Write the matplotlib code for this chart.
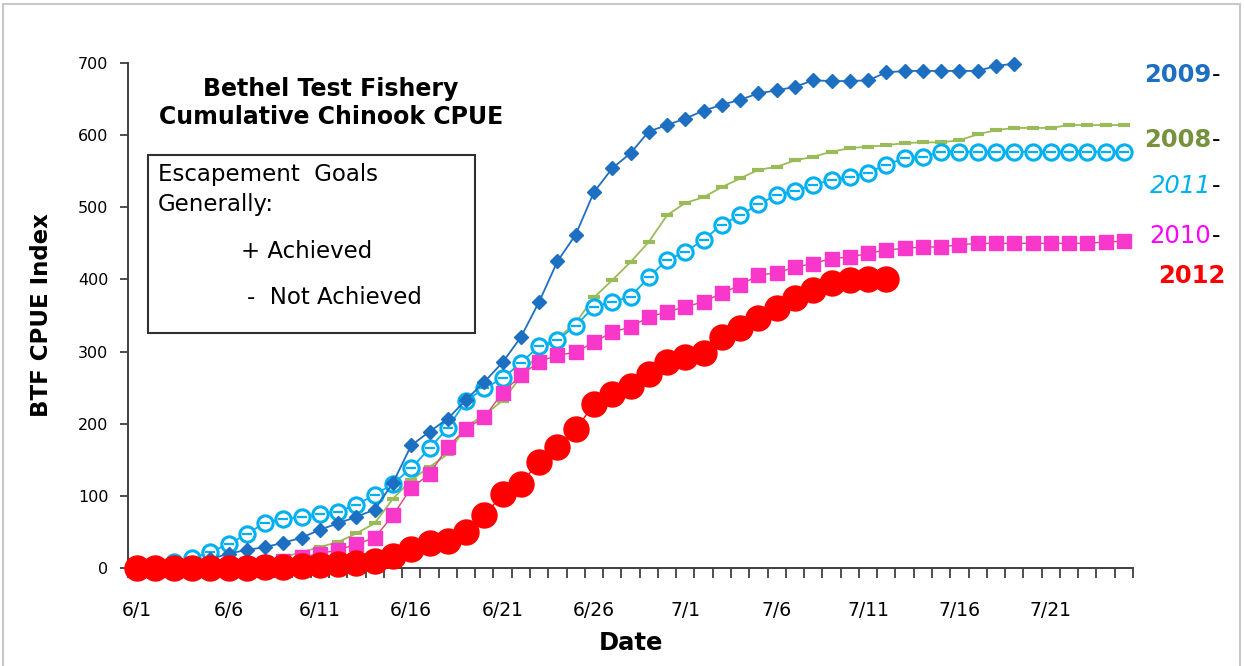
#!/usr/bin/env python3
"""Bethel Test Fishery cumulative Chinook CPUE, 2008-2012."""

import matplotlib

matplotlib.use("Agg")
import matplotlib.pyplot as plt
from matplotlib.patches import Rectangle

W, H = 1244, 666

# 6/1 .. 7/25, one category per day
DATES = [f"6/{d}" for d in range(1, 31)] + [f"7/{d}" for d in range(1, 26)]
TICK_EVERY = 5

CPUE_2008 = [0, 0, 0, 1, 2, 3, 6, 10,
             15, 22, 29, 36, 48, 62, 96, 122, 140, 158, 196, 212, 232, 265,
             300, 318, 340, 375, 399, 424, 452, 489,
             506, 514, 528, 540, 552, 556, 565, 570, 577, 582, 584, 586, 589,
             590, 590, 593, 601, 607, 610, 610, 610, 614, 614, 614, 614]
CPUE_2009 = [0, 1, 3, 7, 12, 20,
             25, 29, 35, 42, 53, 62, 71, 81, 118, 170, 189, 207, 233, 258,
             285, 320, 369, 425, 462, 521, 554, 575, 605, 614,
             623, 634, 642, 649, 658, 662, 667, 676, 675, 675, 676, 687, 689,
             689, 689, 689, 689, 696, 699]
CPUE_2010 = [0, 0, 0, 1, 2, 3, 5, 7, 10, 15,
             20, 25, 33, 42, 73, 111, 130, 168, 193, 209, 243, 267, 286, 295,
             299, 313, 327, 334, 348, 355, 362,
             369, 381, 392, 406, 409, 417, 422, 429, 431, 436, 441, 443, 445,
             445, 448, 450, 450, 450, 450, 450, 450, 450, 452, 453]
CPUE_2011 = [0, 3, 8, 14, 22, 33, 47, 63, 68, 71, 75, 78, 88, 101, 117, 138,
             166, 194, 232, 249, 263, 284, 308, 316, 336, 362, 369, 376, 403,
             427,
             438, 455, 476, 489, 504, 517, 523, 531, 538, 542, 548, 559, 568,
             570, 577, 577, 577, 577, 577, 577, 577, 577, 577, 577, 577]
CPUE_2012 = [0, 0, 0, 0, 0, 0, 0,
             1, 2, 3, 4, 5, 7, 10, 17, 27, 35, 38, 50, 73, 102, 117, 147, 168,
             192, 227, 241, 252, 269, 285,
             292, 298, 320, 333, 346, 360, 374, 385, 395, 399, 400, 400]

BLUE = "#1D6FC2"
GREEN = "#9BBB59"
OLIVE = "#76923C"
CYAN = "#00B0F0"
PINK = "#F837CB"
RED = "#FF0000"


def px(x, y):
    return x / W, 1 - y / H


fig = plt.figure(figsize=(W / 100, H / 100), dpi=100)
fig.patches.append(Rectangle(px(3, 668), (W - 7) / W, (668 - 4) / H,
                             transform=fig.transFigure, fill=False,
                             edgecolor="#c8c8c8", linewidth=1.5))

left, right = px(128, 0)[0], px(1133, 0)[0]
bottom, top = px(0, 568)[1], px(0, 63)[1]
ax = fig.add_axes([left, bottom, right - left, top - bottom])

x8 = range(len(CPUE_2008))
ax.plot(x8, CPUE_2008, color=GREEN, linewidth=1.3, marker="_",
        markersize=8, markeredgewidth=3, zorder=2)

x11 = range(len(CPUE_2011))
ax.plot(x11, CPUE_2011, color=CYAN, linewidth=1.3, marker="o",
        markersize=11, markerfacecolor="white", markeredgewidth=2.2, zorder=3)
ax.plot(x11, CPUE_2011, linestyle="none", marker="_", markersize=7,
        markeredgewidth=1.6, color=CYAN, zorder=3.1)

x10 = range(len(CPUE_2010))
ax.plot(x10, CPUE_2010, color="#D9486F", linewidth=1.0, marker="s",
        markersize=10, markerfacecolor=PINK, markeredgecolor=PINK, zorder=4)

x9 = range(len(CPUE_2009))
ax.plot(x9, CPUE_2009, color=BLUE, linewidth=1.3, marker="D",
        markersize=7.5, markerfacecolor=BLUE, markeredgecolor=BLUE, zorder=5,
        clip_on=False)

x12 = range(len(CPUE_2012))
ax.plot(x12, CPUE_2012, color=RED, linewidth=1.0, marker="o",
        markersize=18, markerfacecolor=RED, markeredgecolor=RED, zorder=6,
        clip_on=False)

ax.set_xlim(-0.5, len(DATES) - 0.5)
ax.set_ylim(0, 700)
ax.set_yticks(range(0, 701, 100))
ax.set_xticks(range(0, len(DATES), TICK_EVERY))
ax.set_xticklabels(DATES[::TICK_EVERY])
ax.set_xticks([i - 0.5 for i in range(len(DATES) + 1)], minor=True)
ax.tick_params(axis="x", which="major", length=0, pad=24, labelsize=13.5)
ax.tick_params(axis="x", which="minor", length=7, width=1.3, direction="out",
               color="#404040")
ax.tick_params(axis="y", length=6, width=1.3, color="#404040", labelsize=11.5,
               pad=8)
for side in ("top", "right"):
    ax.spines[side].set_visible(False)
for side in ("left", "bottom"):
    ax.spines[side].set_color("#404040")
    ax.spines[side].set_linewidth(1.4)

ax.set_ylabel("BTF CPUE Index", fontsize=16.5, fontweight="bold", labelpad=18)
ax.set_xlabel("Date", fontsize=17.5, fontweight="bold", labelpad=8)

fig.text(*px(331, 103), "Bethel Test Fishery\nCumulative Chinook CPUE",
         ha="center", va="center", fontsize=17, fontweight="bold",
         linespacing=1.2)
fig.patches.append(Rectangle(px(148, 333), (475 - 148) / W, (333 - 155) / H,
                             transform=fig.transFigure, fill=False,
                             edgecolor="#303030", linewidth=1.5))
box_kw = dict(fontsize=16.5, va="center", ha="left")
fig.text(*px(158, 174), "Escapement  Goals", **box_kw)
fig.text(*px(158, 204), "Generally:", **box_kw)
fig.text(*px(241, 251), "+ Achieved", **box_kw)
fig.text(*px(247, 297), "-  Not Achieved", **box_kw)

years = [
    ("2009", 75, BLUE, "bold", "normal", True),
    ("2008", 140, OLIVE, "bold", "normal", True),
    ("2011", 186, CYAN, "normal", "italic", True),
    ("2010", 236, "#FF00FF", "normal", "normal", True),
    ("2012", 276, RED, "bold", "normal", False),
]
for label, y, color, weight, style, dash in years:
    xr = 1211 if dash else 1225
    fig.text(*px(xr, y), label, ha="right", va="center", fontsize=17.5,
             color=color, fontweight=weight, fontstyle=style)
    if dash:
        fig.text(*px(1212, y), "-", ha="left", va="center", fontsize=17,
                 color="black")

fig.savefig("out.png", dpi=100)
